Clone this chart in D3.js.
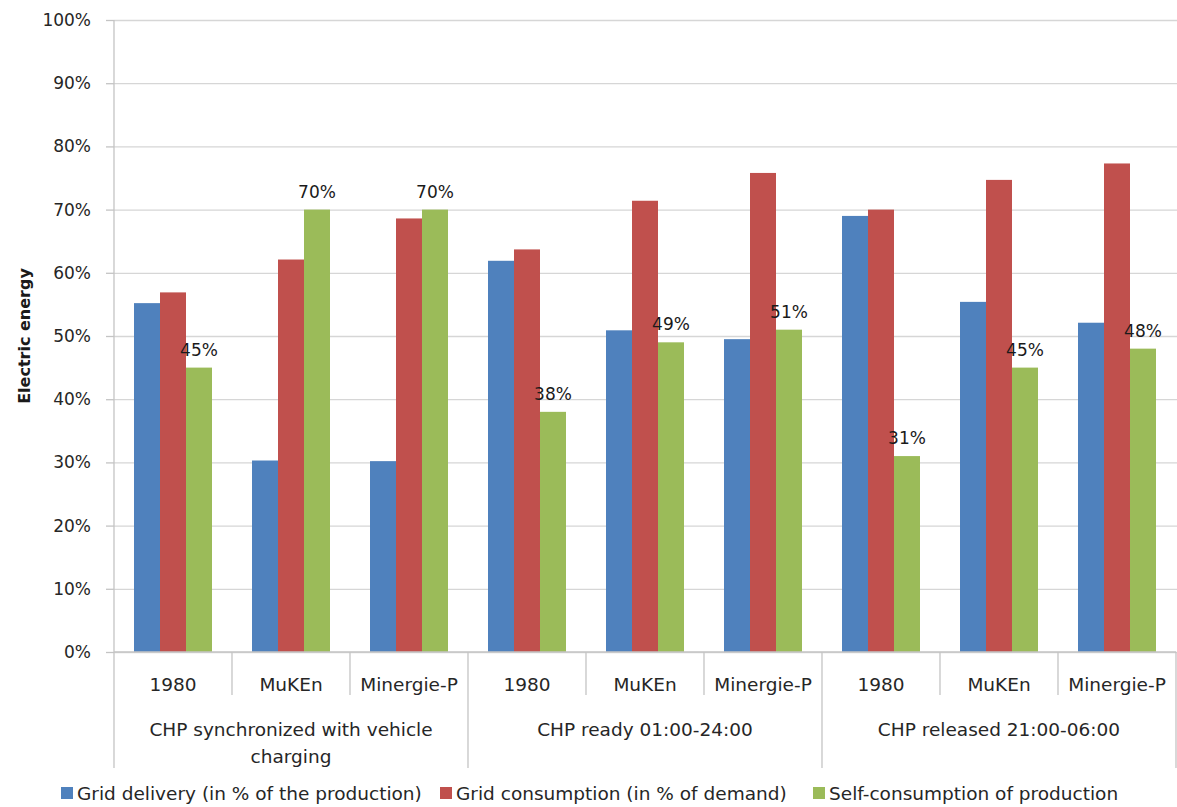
<!DOCTYPE html>
<html>
<head>
<meta charset="utf-8">
<script src="https://cdn.jsdelivr.net/npm/d3@7"></script>
<style>
  html, body { margin: 0; padding: 0; background: #fff; }
  svg { display: block; font-family: "DejaVu Sans", "Open Sans", sans-serif; }
</style>
</head>
<body>
<svg id="chart" width="1177" height="807"></svg>
<script>
// Building types within each operating scenario
const categories = ["1980", "MuKEn", "Minergie-P", "1980", "MuKEn", "Minergie-P", "1980", "MuKEn", "Minergie-P"];
const groups = [
  ["CHP synchronized with vehicle", "charging"],
  ["CHP ready 01:00-24:00"],
  ["CHP released 21:00-06:00"]
];
const seriesNames = [
  "Grid delivery (in % of the production)",
  "Grid consumption (in % of demand)",
  "Self-consumption of production"
];
const seriesColors = ["#4F81BD", "#C0504D", "#9BBB59"];

// Values in percent
const gridDelivery    = [55.2, 30.3, 30.2, 61.9, 50.9, 49.5, 69.0, 55.4, 52.1];
const gridConsumption = [56.9, 62.1, 68.6, 63.7, 71.4, 75.8, 70.0, 74.7, 77.3];
const selfConsumption = [45, 70, 70, 38, 49, 51, 31, 45, 48];

const yTicks = [0, 10, 20, 30, 40, 50, 60, 70, 80, 90, 100];

const series = [gridDelivery, gridConsumption, selfConsumption];

const svg = d3.select("#chart");
const plotLeft = 114, plotRight = 1176, plotTop = 20, plotBottom = 652;
const textColor = "#262626";
const lineColor = "#c4c4c4";

const x0 = d3.scaleBand().domain(d3.range(categories.length)).range([plotLeft, plotRight]).padding(0);
const x1 = d3.scaleBand().domain(d3.range(series.length))
  .range([20, x0.bandwidth() - 20]).padding(0);
const y = d3.scaleLinear().domain([0, 100]).range([plotBottom, plotTop]);

// horizontal gridlines
svg.append("g")
  .attr("transform", `translate(${plotLeft},0)`)
  .call(d3.axisLeft(y).tickValues(yTicks).tickSize(-(1177 - plotLeft)).tickFormat(""))
  .call(g => g.select(".domain").remove())
  .call(g => g.selectAll("line").attr("stroke", "#d6d6d6").attr("stroke-width", 1.3));

// bars
series.forEach((vals, s) => {
  svg.append("g").selectAll("rect")
    .data(vals)
    .join("rect")
    .attr("x", (d, i) => x0(i) + x1(s))
    .attr("y", d => y(d))
    .attr("width", x1.bandwidth())
    .attr("height", d => y(0) - y(d))
    .attr("fill", seriesColors[s]);
});

// value labels on self-consumption bars
svg.append("g").selectAll("text")
  .data(selfConsumption)
  .join("text")
  .attr("x", (d, i) => x0(i) + x1(2) + x1.bandwidth() / 2)
  .attr("y", d => y(d) - 12)
  .attr("text-anchor", "middle")
  .attr("font-size", 17)
  .attr("fill", "#1a1a1a")
  .text(d => d + "%");

// y axis
svg.append("g")
  .attr("transform", `translate(${plotLeft},0)`)
  .call(d3.axisLeft(y).tickValues(yTicks).tickSize(8).tickPadding(15).tickFormat(d => d + "%"))
  .call(g => g.select(".domain").attr("stroke", lineColor).attr("stroke-width", 1.3).attr("d", `M0,${plotTop}V${plotBottom}`))
  .call(g => g.selectAll(".tick line").attr("stroke", lineColor).attr("stroke-width", 1.3))
  .call(g => g.selectAll(".tick text").attr("font-size", 17).attr("fill", textColor)
    .attr("font-family", "'DejaVu Sans', sans-serif"));

// category axis baseline
svg.append("line")
  .attr("x1", plotLeft).attr("x2", plotRight).attr("y1", plotBottom).attr("y2", plotBottom)
  .attr("stroke", lineColor).attr("stroke-width", 1.3);

// category separators: short inside a group, long between groups
const boundaries = d3.range(categories.length + 1);
svg.append("g").selectAll("line")
  .data(boundaries)
  .join("line")
  .attr("x1", i => i < categories.length ? x0(i) : plotRight)
  .attr("x2", i => i < categories.length ? x0(i) : plotRight)
  .attr("y1", plotBottom)
  .attr("y2", i => i % 3 === 0 ? 768 : 695)
  .attr("stroke", lineColor).attr("stroke-width", 1.3);

// category labels
svg.append("g").selectAll("text")
  .data(categories)
  .join("text")
  .attr("x", (d, i) => x0(i) + x0.bandwidth() / 2)
  .attr("y", 691)
  .attr("text-anchor", "middle")
  .attr("font-size", 18.5)
  .attr("fill", textColor)
  .text(d => d);

// scenario labels
groups.forEach((lines, gi) => {
  const cx = x0(gi * 3) + x0.bandwidth() * 1.5;
  lines.forEach((ln, li) => {
    svg.append("text")
      .attr("x", cx)
      .attr("y", 736 + li * 27)
      .attr("text-anchor", "middle")
      .attr("font-size", 18.5)
      .attr("fill", textColor)
      .text(ln);
  });
});

// y-axis title
svg.append("text")
  .attr("transform", `translate(30,${(plotTop + plotBottom) / 2}) rotate(-90)`)
  .attr("text-anchor", "middle")
  .attr("font-size", 16)
  .attr("font-weight", "bold")
  .attr("fill", "#1a1a1a")
  .text("Electric energy");

// legend
const legendX = [61, 440, 813];
const legend = svg.append("g");
seriesNames.forEach((name, s) => {
  legend.append("rect")
    .attr("x", legendX[s]).attr("y", 787)
    .attr("width", 12).attr("height", 12)
    .attr("fill", seriesColors[s]);
  legend.append("text")
    .attr("x", legendX[s] + 16).attr("y", 800)
    .attr("font-size", 18.5)
    .attr("fill", textColor)
    .text(name);
});
</script>
</body>
</html>
